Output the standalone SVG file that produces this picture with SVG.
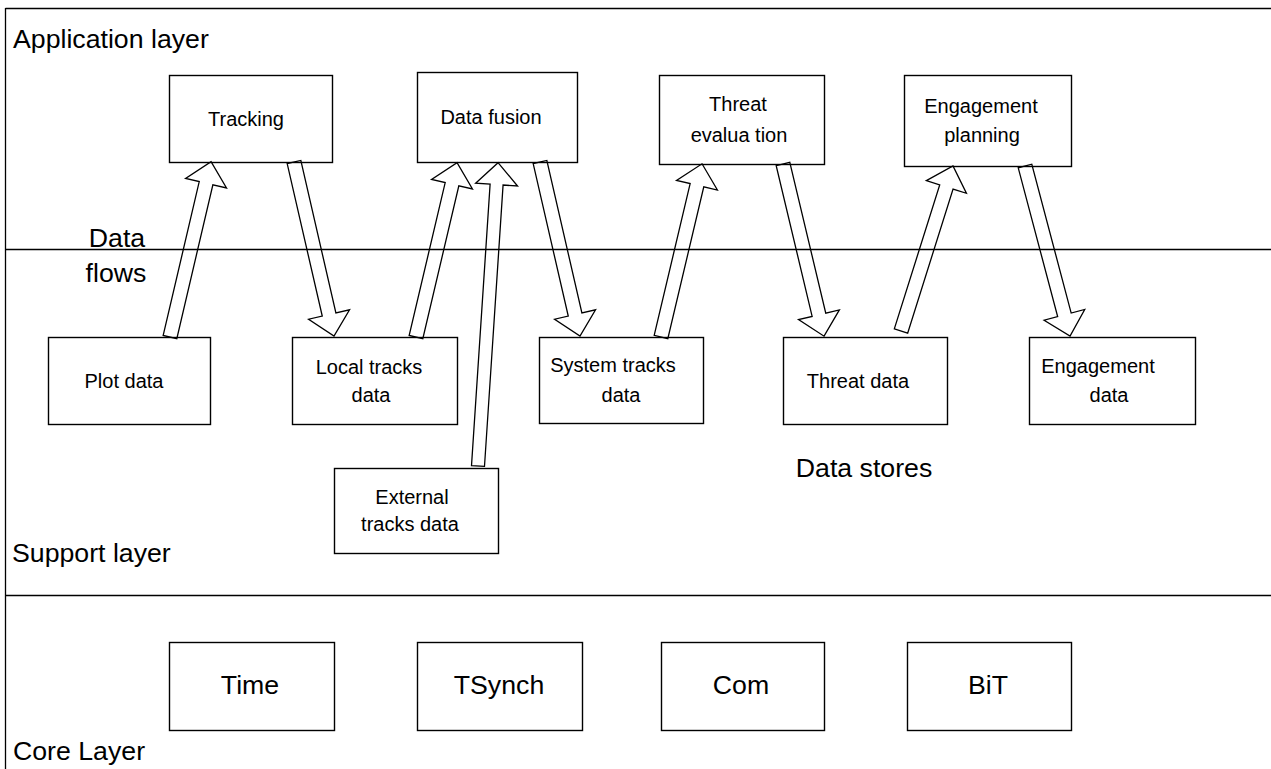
<svg xmlns="http://www.w3.org/2000/svg" width="1271" height="769" viewBox="0 0 1271 769">
  <style>
    .frame { stroke: #000; stroke-width: 1.3; fill: none; }
    .box { fill: #fff; stroke: #000; stroke-width: 1.4; }
    .flow { fill: none; stroke: #000; stroke-width: 1.3; stroke-linejoin: miter; }
    .layer { font-family: "Liberation Sans", Arial, sans-serif; font-size: 26.7px; fill: #000; }
    .big { font-family: "Liberation Sans", Arial, sans-serif; font-size: 26.7px; fill: #000; text-anchor: middle; }
    .lbl { font-family: "Liberation Sans", Arial, sans-serif; font-size: 20px; fill: #000; text-anchor: middle; }
  </style>

  <rect width="1271" height="769" fill="#fff"/>

  <!-- layer frame and separators -->
  <g id="layers">
    <line class="frame" x1="5.5" y1="8.5" x2="1271" y2="8.5"/>
    <line class="frame" x1="5.5" y1="8" x2="5.5" y2="769"/>
    <line class="frame" x1="5" y1="249.5" x2="1271" y2="249.5"/>
    <line class="frame" x1="5" y1="595.5" x2="1271" y2="595.5"/>
    <text class="layer" x="13" y="48">Application layer</text>
    <text class="layer" x="12" y="562">Support layer</text>
    <text class="layer" x="13" y="760">Core Layer</text>
    <text class="big" x="117" y="247">Data</text>
    <text class="big" x="116" y="282">flows</text>
    <text class="big" x="864" y="477">Data stores</text>
  </g>

  <!-- application layer processes -->
  <g id="tracking">
    <rect class="box" x="169.5" y="75.5" width="163" height="87"/>
    <text class="lbl" x="246" y="126">Tracking</text>
  </g>
  <g id="data-fusion">
    <rect class="box" x="417.5" y="72.5" width="160" height="90"/>
    <text class="lbl" x="491" y="124">Data fusion</text>
  </g>
  <g id="threat-evaluation">
    <rect class="box" x="659.5" y="75.5" width="165" height="89"/>
    <text class="lbl" x="738" y="111">Threat</text>
    <text class="lbl" x="739" y="142">evalua tion</text>
  </g>
  <g id="engagement-planning">
    <rect class="box" x="904.5" y="75.5" width="167" height="91"/>
    <text class="lbl" x="981" y="113">Engagement</text>
    <text class="lbl" x="982" y="142">planning</text>
  </g>

  <!-- support layer data stores -->
  <g id="plot-data">
    <rect class="box" x="48.5" y="337.5" width="162" height="87"/>
    <text class="lbl" x="124" y="388">Plot data</text>
  </g>
  <g id="local-tracks-data">
    <rect class="box" x="292.5" y="337.5" width="165" height="87"/>
    <text class="lbl" x="369" y="374">Local tracks</text>
    <text class="lbl" x="371" y="402">data</text>
  </g>
  <g id="external-tracks-data">
    <rect class="box" x="334.5" y="468.5" width="164" height="85"/>
    <text class="lbl" x="412" y="504">External</text>
    <text class="lbl" x="410" y="531">tracks data</text>
  </g>
  <g id="system-tracks-data">
    <rect class="box" x="539.5" y="337.5" width="164" height="86"/>
    <text class="lbl" x="613" y="372">System tracks</text>
    <text class="lbl" x="621" y="402">data</text>
  </g>
  <g id="threat-data">
    <rect class="box" x="783.5" y="337.5" width="164" height="87"/>
    <text class="lbl" x="858" y="388">Threat data</text>
  </g>
  <g id="engagement-data">
    <rect class="box" x="1029.5" y="337.5" width="166" height="87"/>
    <text class="lbl" x="1098" y="373">Engagement</text>
    <text class="lbl" x="1109" y="402">data</text>
  </g>

  <!-- core layer services -->
  <g id="time">
    <rect class="box" x="169.5" y="642.5" width="165" height="88"/>
    <text class="big" x="250" y="694">Time</text>
  </g>
  <g id="tsynch">
    <rect class="box" x="417.5" y="642.5" width="165" height="88"/>
    <text class="big" x="499" y="694">TSynch</text>
  </g>
  <g id="com">
    <rect class="box" x="661.5" y="642.5" width="163" height="88"/>
    <text class="big" x="741" y="694">Com</text>
  </g>
  <g id="bit">
    <rect class="box" x="907.5" y="642.5" width="164" height="88"/>
    <text class="big" x="988" y="694">BiT</text>
  </g>

  <!-- block arrows: each drawn along +x from the tail, then placed and turned -->
  <g id="connectors">
    <polygon class="flow" transform="translate(170,337) rotate(-76.81)" points="0,-7 158,-7 158,-21 180,0 158,21 158,7 0,7"/>
    <polygon class="flow" transform="translate(294,162) rotate(77.05)" points="0,-7 156.5,-7 156.5,-21 178.5,0 156.5,21 156.5,7 0,7"/>
    <polygon class="flow" transform="translate(416,337) rotate(-76.74)" points="0,-7 157,-7 157,-21 179,0 157,21 157,7 0,7"/>
    <polygon class="flow" transform="translate(478,466) rotate(-86.22)" points="0,-6.5 282,-6.5 282,-21 304,0 282,21 282,6.5 0,6.5"/>
    <polygon class="flow" transform="translate(540,162) rotate(77.05)" points="0,-7 156.5,-7 156.5,-21 178.5,0 156.5,21 156.5,7 0,7"/>
    <polygon class="flow" transform="translate(661,337) rotate(-76.67)" points="0,-7 156,-7 156,-21 178,0 156,21 156,7 0,7"/>
    <polygon class="flow" transform="translate(783,164) rotate(76.59)" points="0,-7 155,-7 155,-21 177,0 155,21 155,7 0,7"/>
    <polygon class="flow" transform="translate(901,331) rotate(-72.51)" points="0,-7 151,-7 151,-21 173,0 151,21 151,7 0,7"/>
    <polygon class="flow" transform="translate(1025,166) rotate(75.17)" points="0,-7 154,-7 154,-21 176,0 154,21 154,7 0,7"/>
  </g>
</svg>
